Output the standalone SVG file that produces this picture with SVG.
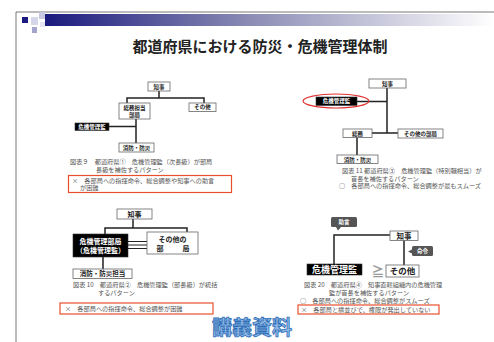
<svg xmlns="http://www.w3.org/2000/svg" width="494" height="342" viewBox="0 0 494 342">
<defs>
<linearGradient id="bar" x1="0" y1="0" x2="1" y2="0">
<stop offset="0" stop-color="#1a1a7e"/>
<stop offset="0.45" stop-color="#8a8ab4"/>
<stop offset="1" stop-color="#ffffff"/>
</linearGradient>
<style>
text{font-family:"Noto Sans CJK JP","Noto Sans CJK SC",sans-serif;}
.box{fill:#fff;stroke:#666;stroke-width:0.8;}
.blk{fill:#000;stroke:#333;stroke-width:0.6;}
.t{font-size:5.5px;fill:#222;text-anchor:middle;font-weight:bold;}
.tw{font-size:5.5px;fill:#fff;text-anchor:middle;font-weight:bold;}
.cap{font-size:6.2px;fill:#555;}
.ln{stroke:#222;stroke-width:1.5;fill:none;}
.red{fill:none;stroke:#e8502c;stroke-width:1.2;}
.call{fill:#555;}
</style>
</defs>
<rect width="494" height="342" fill="#fff"/>
<g id="frame">
<line x1="16" y1="12" x2="494" y2="12" stroke="#555" stroke-width="0.8"/>
<line x1="16" y1="12" x2="16" y2="342" stroke="#555" stroke-width="0.8"/>
<rect x="45" y="14" width="449" height="12" fill="url(#bar)"/>
<rect x="22" y="17" width="6" height="6" fill="#1a1a80"/>
<rect x="31" y="17" width="7" height="8" fill="#d6d6ea"/>
<rect x="39" y="12" width="6" height="7" fill="#c8c8e2"/>
<rect x="32" y="27" width="5" height="6" fill="#a4a4cc"/>
<rect x="40" y="22" width="5" height="5" fill="#e4e4f2"/>
</g>
<text x="260" y="52" font-size="15" font-weight="bold" text-anchor="middle" fill="#222">都道府県における防災・危機管理体制</text>

<g id="connectors">
<path class="ln" d="M159 91V98M127 103V98H204V103M109 126.5H136M136 119V143"/>
<path class="ln" d="M387 88V133M357 101.5H387M372 133H398M357 137V155"/>
<path class="ln" d="M133 219V228M105 234V228H187V232M103 257V269"/>
<path stroke="#222" stroke-width="1" fill="none" d="M128 241.5H147M128 245H147M128 248.5H147"/>
<path class="ln" d="M334 264V235H390M404 240V266"/>
</g>

<g id="d1-chiji"><rect class="box" x="148" y="82" width="22" height="9"/><text class="t" x="159" y="88.6">知事</text></g>
<g id="d1-somu"><rect class="box" x="119" y="103" width="31" height="16"/><text class="t" x="134.5" y="109.8">総務担当</text><text class="t" x="134.5" y="116.5">部局</text></g>
<g id="d1-sonota"><rect class="box" x="189" y="103" width="27" height="8.5"/><text class="t" x="202.5" y="109.3">その他</text></g>
<g id="d1-kiki"><rect class="blk" x="75" y="123" width="34" height="7.5"/><text class="tw" x="92" y="129">危機管理監</text></g>
<g id="d1-shobo"><rect class="box" x="119" y="143" width="35" height="9"/><text class="t" x="136.5" y="149.6">消防・防災</text></g>
<g id="d1-caption">
<text class="cap" x="70" y="164">図表９　都道府県①　危機管理監（次長級）が部局</text>
<text class="cap" x="96" y="171.5">長級を補佐するパターン</text>
<rect class="red" x="68.5" y="175.5" width="163" height="17"/>
<text class="cap" x="72" y="182.5">×　各部局への指揮命令、総合調整や知事への助言</text>
<text class="cap" x="80" y="190">が困難</text>
</g>

<g id="d2-chiji"><rect class="box" x="369" y="79" width="37" height="9"/><text class="t" x="387.5" y="85.8">知事</text></g>
<g id="d2-kiki"><rect class="blk" x="316" y="97" width="41" height="8.5"/><text class="tw" x="336.5" y="103.4">危機管理監</text>
<ellipse cx="336" cy="101" rx="33" ry="7" fill="none" stroke="#e03030" stroke-width="1.2"/></g>
<g id="d2-somu"><rect class="box" x="343" y="129" width="29" height="8.5"/><text class="t" x="357.5" y="135.5">総務</text></g>
<g id="d2-sonota"><rect class="box" x="398" y="129" width="45" height="9"/><text class="t" x="420.5" y="135.8">その他の部局</text></g>
<g id="d2-shobo"><rect class="box" x="337" y="155" width="41" height="8.5"/><text class="t" x="357.5" y="161.5">消防・防災</text></g>
<g id="d2-caption">
<text class="cap" x="342" y="173">図表 11 都道府県③　危機管理監（特別職相当）が</text>
<text class="cap" x="351" y="180.5">首長を補佐するパターン</text>
<text class="cap" x="339" y="188">○　各部局への指揮命令、総合調整が最もスムーズ</text>
</g>

<g id="d3-chiji"><rect class="box" x="117" y="209" width="35" height="10"/><text class="t" x="134.5" y="216.5" style="font-size:7px">知事</text></g>
<g id="d3-kiki"><rect class="blk" x="73" y="234" width="55" height="23"/><text class="tw" x="100.5" y="243.5" style="font-size:7px">危機管理部局</text><text class="tw" x="100.5" y="252.5" style="font-size:7px">（危機管理監）</text></g>
<g id="d3-sonota"><rect class="box" x="147" y="232" width="51" height="22"/><text class="t" x="172.5" y="241.5" style="font-size:7px">その他の</text><text class="t" x="160" y="250.5" style="font-size:7px">部</text><text class="t" x="186" y="250.5" style="font-size:7px">局</text></g>
<g id="d3-shobo"><rect class="box" x="73" y="269" width="59" height="9.5"/><text class="t" x="102.5" y="276.3" style="font-size:6.5px">消防・防災担当</text></g>
<g id="d3-caption">
<text class="cap" x="73" y="287">図表 10　都道府県②　危機管理監（部長級）が統括</text>
<text class="cap" x="98" y="294.5">するパターン</text>
<rect class="red" x="60" y="303" width="153" height="11"/>
<text class="cap" x="65" y="310.8">×　各部局への指揮命令、総合調整が困難</text>
</g>

<g id="d4-jogen"><rect class="call" x="331" y="217" width="26" height="10" rx="1.5"/><path class="call" d="M336 227L338 230.5L341 227Z"/><text class="tw" x="344" y="224.2">助言</text></g>
<g id="d4-meirei"><rect class="call" x="412" y="246" width="21" height="10" rx="1.5"/><path class="call" d="M412 249.5L408 251.5L412 253.5Z"/><text class="tw" x="422.5" y="253.2">命令</text></g>
<g id="d4-chiji"><rect class="box" x="390" y="231" width="28" height="9.5"/><text class="t" x="404" y="238.6" style="font-size:7.5px">知事</text></g>
<g id="d4-kiki"><rect class="blk" x="307" y="264" width="55" height="11"/><text class="tw" x="334.5" y="272.8" style="font-size:9px">危機管理監</text></g>
<text x="378" y="276" font-size="13" font-weight="bold" fill="#9a9a9a" text-anchor="middle" font-family="'DejaVu Sans',sans-serif">≧</text>
<g id="d4-sonota"><rect class="box" x="386" y="265" width="33" height="12"/><text class="t" x="402.5" y="274" style="font-size:8.5px">その他</text></g>
<g id="d4-caption">
<text class="cap" x="304" y="287">図表 20　都道府県④　知事直轄組織内の危機管理</text>
<text class="cap" x="329" y="294.5">監が首長を補佐するパターン</text>
<text class="cap" x="300" y="302.5">○　各部局への指揮命令、総合調整がスムーズ</text>
<rect class="red" x="298" y="305" width="141" height="9"/>
<text class="cap" x="301" y="311.8">×　各部局と横並びで、権限が発出していない</text>
</g>

<text x="252" y="335" font-size="20" font-weight="bold" text-anchor="middle" fill="#8fb8e6" stroke="#2f6fb8" stroke-width="0.8">講義資料</text>
</svg>
